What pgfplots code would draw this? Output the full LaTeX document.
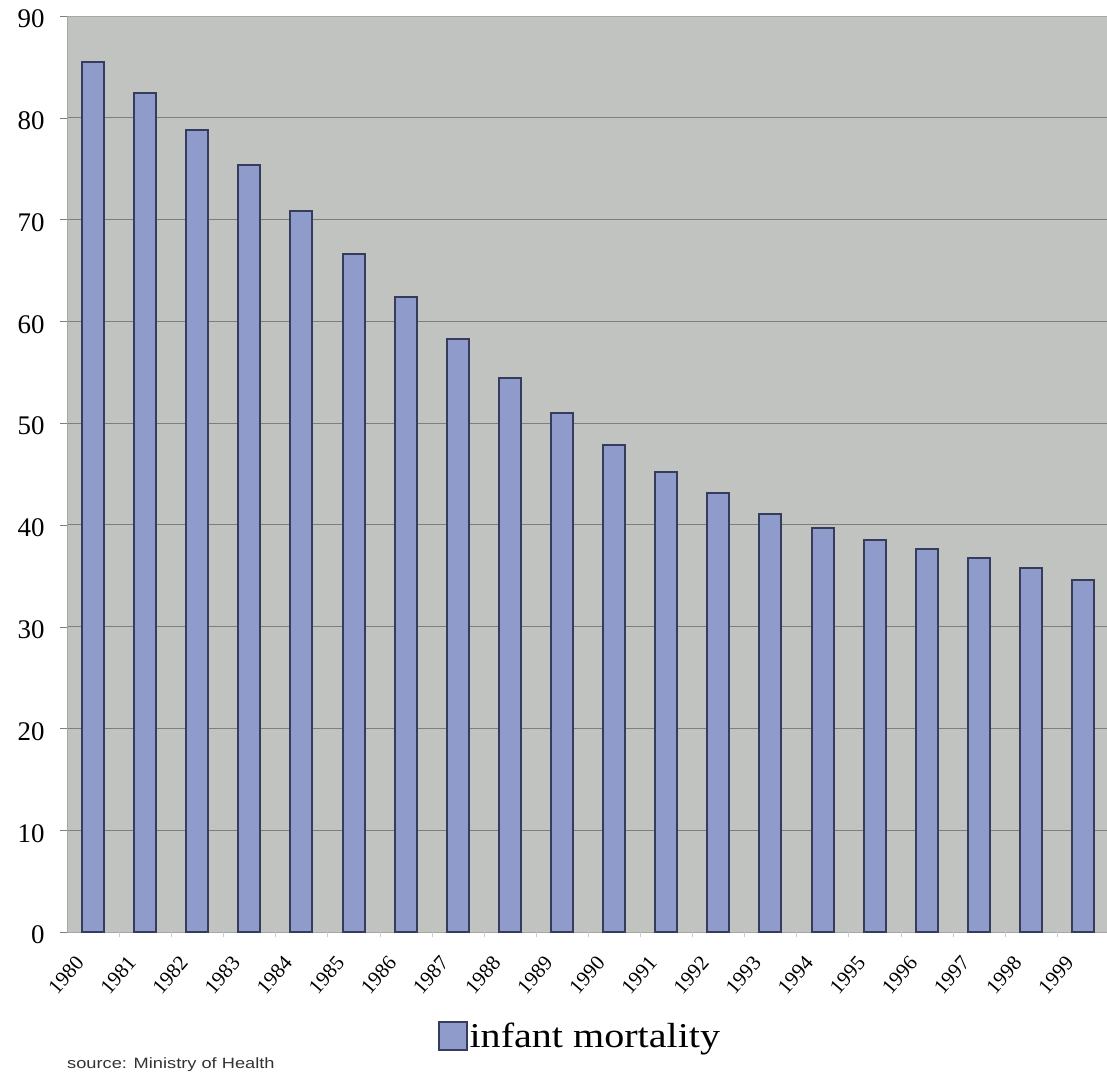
\documentclass[border=0pt]{standalone}
\usepackage{fontspec}
\setmainfont{Liberation Serif}
\newfontfamily\arial{Liberation Sans}
\usepackage{graphicx}
\usepackage{pgfplots}
\pgfplotsset{compat=1.18}
\definecolor{bgGray}{HTML}{C0C3C0}
\definecolor{barFill}{HTML}{8F9BCB}
\definecolor{barEdge}{HTML}{363C5C}
\definecolor{gridGray}{HTML}{7E807E}
\begin{document}
\begin{tikzpicture}
\begin{axis}[
  at={(0,0)}, anchor=south west,
  scale only axis,
  width=1040bp, height=916bp,
  xmin=-0.5, xmax=19.46,
  ymin=0, ymax=90,
  ytick={0,10,...,90},
  xtick=data,
  xticklabels={1980,1981,1982,1983,1984,1985,1986,1987,1988,1989,1990,1991,1992,1993,1994,1995,1996,1997,1998,1999},
  x tick label style={xshift=-19bp, yshift=-11bp, rotate=49, anchor=north east, font=\fontsize{21}{25}\selectfont},
  y tick label style={font=\fontsize{27}{32}\selectfont, xshift=-12bp, yshift=-3bp},
  /pgf/number format/assume math mode=true,
  major x tick style={draw=none},
  ytick style={gridGray},
  extra x ticks={0.5,1.5,...,18.5},
  extra x tick labels={},
  extra x tick style={grid=none, major tick length=5bp, major x tick style={draw=gridGray!40}},
  tick align=outside,
  major tick length=7bp,
  ymajorgrids,
  grid style={gridGray, line width=0.8bp},
  axis background/.style={fill=bgGray},
  axis line style={draw=gridGray!70, line width=0.8bp},
  axis x line*=bottom,
  axis y line*=left,
  clip mode=individual,
  legend style={at={(0.4935,-0.1135)}, anchor=center, draw=none, fill=none, font=\fontsize{35}{40}\selectfont, inner sep=0pt},
  legend cell align=left,
]
\addplot[ybar, bar width=22bp, fill=barFill, draw=barEdge, line width=2bp,
  legend image code/.code={\draw[fill=barFill, draw=barEdge, line width=1.2bp] (-6bp,-14bp) rectangle (22bp,14bp);}]
coordinates {
(0,85.5) (1,82.4) (2,78.8) (3,75.4) (4,70.8) (5,66.6) (6,62.4) (7,58.3) (8,54.4) (9,51.0)
(10,47.8) (11,45.2) (12,43.1) (13,41.1) (14,39.7) (15,38.5) (16,37.6) (17,36.7) (18,35.8) (19,34.6)
};
\addlegendentry{\scalebox{1.15}[1]{infant mortality}}
\draw[gridGray!70, line width=0.8bp] (rel axis cs:0,1) -- (rel axis cs:1,1);
\node[anchor=west, font=\arial\fontsize{15}{17}\selectfont, inner sep=0pt, text=black!80] at (rel axis cs:0.0,-0.145) {\scalebox{1.22}[1]{source: Ministry of Health}};
\end{axis}
\pgfresetboundingbox
\path[use as bounding box] (-67bp,-142bp) rectangle (1040bp,932bp);
\end{tikzpicture}
\end{document}
